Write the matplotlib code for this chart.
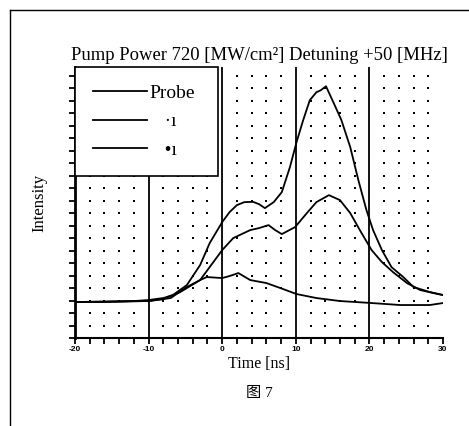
import numpy as np
import matplotlib
matplotlib.use("Agg")
import matplotlib.pyplot as plt
from matplotlib.lines import Line2D
from matplotlib.ticker import MultipleLocator

# ---- data (intensity in arbitrary units) ----
t_a = [-20, -16, -12, -10, -8, -6.7, -4.8, -3.0, -1.7, 0, 1, 2, 3, 4.2, 5.0, 5.8, 7.0, 8.1,
       9.2, 10.1, 11.0, 11.9, 12.8, 13.4, 14.1, 15.1, 16.2, 17.4, 18.5, 19.6, 20.5, 21.7,
       23.0, 24.6, 26.0, 28.2, 30]
i_a = [2.88, 2.88, 2.96, 3.04, 3.2, 3.44, 4.24, 5.84, 7.6, 9.28, 10.08, 10.64, 10.88, 10.9,
       10.72, 10.4, 10.88, 11.68, 13.68, 15.68, 17.44, 19.04, 19.68, 19.84, 20.16, 18.88,
       17.44, 15.28, 12.64, 10.24, 8.64, 7.04, 5.68, 4.88, 4.08, 3.68, 3.44]

t_b = [-20, -10, -8, -5.7, -3, -1.7, 0, 1.5, 3.8, 5, 6.3, 7.2, 8.1, 9.9, 11.5, 12.8, 14.5,
       16.0, 17.4, 18.7, 20.3, 21.7, 23.2, 25.1, 26.9, 28.7, 30]
i_b = [2.88, 2.96, 3.12, 3.68, 4.64, 5.68, 7.04, 8.0, 8.64, 8.8, 9.04, 8.64, 8.32, 8.88,
       10.0, 10.88, 11.44, 11.04, 10.0, 8.64, 7.04, 6.08, 5.28, 4.4, 3.84, 3.6, 3.44]

t_c = [-20, -10, -7, -4.8, -3, -2.1, 0, 1, 2.2, 3.8, 6.0, 7.9, 10.1, 12.8, 16.0, 20.3,
       24.2, 28.2, 30]
i_c = [2.88, 2.96, 3.2, 4.08, 4.64, 4.88, 4.8, 4.96, 5.2, 4.64, 4.4, 4.0, 3.52, 3.2, 2.96,
       2.8, 2.64, 2.64, 2.8]

legend_labels = ["Probe", "   \u00b7\u0131", "   \u2022\u0131"]
x_major_ticks = [-20, -10, 0, 10, 20, 30]
title = "Pump Power 720 [MW/cm\u00b2] Detuning +50 [MHz]"
xlabel = "Time [ns]"
ylabel = "Intensity"
caption = "图 7"

W, H = 469, 426
fig = plt.figure(figsize=(W / 100, H / 100), dpi=100)
ax = fig.add_axes([75 / W, 1 - 338 / H, (443 - 75) / W, (338 - 67) / H])

serif = ["Liberation Serif", "DejaVu Serif"]

ax.set_xlim(-20, 30)
ax.set_ylim(0, 21.7)

# dot grid at minor-tick intersections
xs = [x for x in np.arange(-20, 30.1, 2) if x % 10 != 0]
ys = np.arange(1, 22, 1)
gx, gy = np.meshgrid(xs, ys)
ax.scatter(gx.ravel(), gy.ravel(), s=0.6, color="black", marker="s", linewidths=0, zorder=1)

# major vertical grid lines
for xv in x_major_ticks[1:-1]:
    ax.axvline(xv, color="black", lw=1.3, zorder=2)

lc, = ax.plot(t_c, i_c, color="black", lw=1.3, zorder=3)
la, = ax.plot(t_a, i_a, color="black", lw=1.3, zorder=3)
lb, = ax.plot(t_b, i_b, color="black", lw=1.3, zorder=3)

# spines / ticks
for s in ["top", "right"]:
    ax.spines[s].set_visible(False)
ax.spines["left"].set_linewidth(2)
ax.spines["bottom"].set_linewidth(1.5)
ax.set_xticks(x_major_ticks)
ax.set_xticklabels([str(v) for v in x_major_ticks])
ax.xaxis.set_minor_locator(MultipleLocator(2))
ax.yaxis.set_major_locator(MultipleLocator(1))
ax.set_yticklabels([])
ax.tick_params(axis="x", which="both", direction="out", length=4, width=1.3, pad=2,
               labelsize=6)
ax.tick_params(axis="y", which="both", direction="out", length=4.5, width=1.3)
for lab in ax.get_xticklabels():
    lab.set_fontweight("bold")
    lab.set_family("Liberation Sans")

ax.set_title(title, fontsize=13.4, family=serif, pad=5)
ax.set_xlabel(xlabel, fontsize=11.5, family=serif, labelpad=2)
ax.set_ylabel(ylabel, fontsize=12, family=serif)
ax.yaxis.set_label_coords(-0.075, 0.5)

leg = ax.legend([lc, la, lb], legend_labels, loc="upper left",
                bbox_to_anchor=(0, 0, 143 / 368, 1), mode="expand",
                borderaxespad=0, fancybox=False, framealpha=1, edgecolor="black",
                prop={"family": serif, "size": 14}, handlelength=2.8, handletextpad=0.15,
                borderpad=0.9, labelspacing=0.55)
leg.get_frame().set_linewidth(1.2)

fig.text(259 / W, 1 - 393 / H, caption, ha="center", va="center", fontsize=11,
         family=["Liberation Serif", "Noto Sans CJK SC"])

# page border
fig.add_artist(Line2D([10 / W, 10 / W], [0, 1 - 10 / H], transform=fig.transFigure,
                      color="black", lw=1))
fig.add_artist(Line2D([10 / W, 1], [1 - 10 / H, 1 - 10 / H], transform=fig.transFigure,
                      color="black", lw=1))

fig.savefig("out.png", dpi=100)
